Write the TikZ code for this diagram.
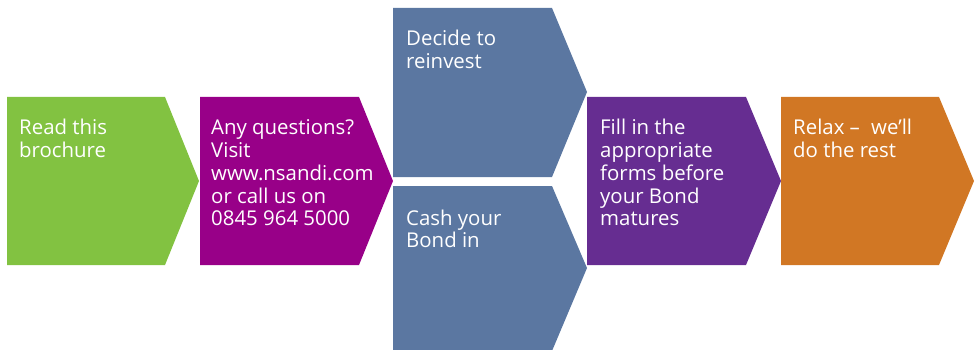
\documentclass[tikz,border=0pt]{standalone}
\usepackage{fontspec}
\setmainfont{Open Sans}
\definecolor{stepgreen}{RGB}{130,194,65}
\definecolor{stepmagenta}{RGB}{152,0,136}
\definecolor{stepblue}{RGB}{91,119,161}
\definecolor{steppurple}{RGB}{102,45,145}
\definecolor{steporange}{RGB}{209,119,36}
\newcommand\steptext[1]{\parbox[t]{200pt}{\raggedright #1}}
\tikzset{
  steplabel/.style={anchor=base west, text=white, inner sep=0pt,
    font=\fontsize{20.4}{22.7}\selectfont},
}
\begin{document}
\begin{tikzpicture}[x=1pt,y=-1pt]
\useasboundingbox (0,0) rectangle (979,350);
% chevrons of the process
\fill[stepgreen]   (7,97)   -- (165,97)  -- (199,181) -- (165,265) -- (7,265)   -- cycle;
\fill[stepmagenta] (200,97) -- (359,97)  -- (393,181) -- (359,265) -- (200,265) -- cycle;
\fill[stepblue]    (393,8)  -- (552,8)   -- (587,92)  -- (552,177) -- (393,177) -- cycle;
\fill[stepblue]    (393,186)-- (552,186) -- (587,268) -- (552,351) -- (393,351) -- cycle;
\fill[steppurple]  (587,97) -- (746,97)  -- (781,181) -- (746,265) -- (587,265) -- cycle;
\fill[steporange]  (781,97) -- (939,97)  -- (974,181) -- (939,265) -- (781,265) -- cycle;
% labels
\node[steplabel] (read)  at (19,135)  {\steptext{Read this\\brochure}};
\node[steplabel] (ask)   at (211,135) {\steptext{Any questions?\\Visit\\www.nsandi.com\\or call us on\\0845 964 5000}};
\node[steplabel] (reinv) at (406,46)  {\steptext{Decide to\\reinvest}};
\node[steplabel] (cash)  at (406,225) {\steptext{Cash your\\Bond in}};
\node[steplabel] (forms) at (600,135) {\steptext{Fill in the\\appropriate\\forms before\\your Bond\\matures}};
\node[steplabel] (relax) at (793,135) {\steptext{Relax --\hspace{0.55em}we’ll\\do the rest}};
\end{tikzpicture}
\end{document}
